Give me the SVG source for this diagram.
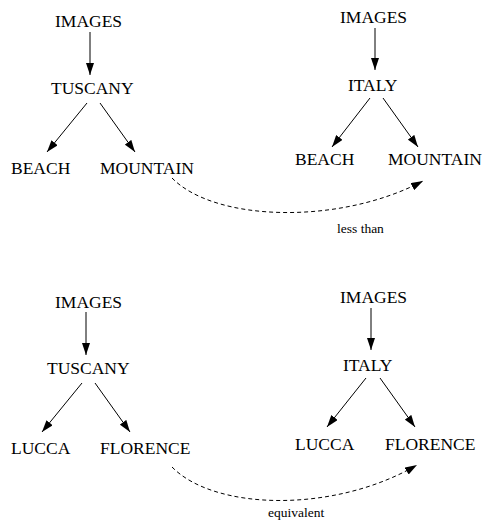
<svg xmlns="http://www.w3.org/2000/svg" width="485" height="527" viewBox="0 0 485 527">
<style>
.n{font-family:"Liberation Serif","Times New Roman",serif;font-size:17.5px;fill:#000}
.l{font-family:"Liberation Serif","Times New Roman",serif;font-size:13.5px;fill:#000}
.e{stroke:#000;stroke-width:1;fill:none;marker-end:url(#ah)}
.d{stroke:#000;stroke-width:1;fill:none;stroke-dasharray:4,3;marker-end:url(#ah)}
</style>
<defs>
<marker id="ah" markerUnits="userSpaceOnUse" markerWidth="12" markerHeight="8" refX="12" refY="4" orient="auto">
<path d="M0,0 L12,4 L0,8 z" fill="#000" stroke="none"/>
</marker>
</defs>
<rect width="485" height="527" fill="#fff"/>
<g id="connectors">
<line class="e" x1="90" y1="32" x2="90" y2="75"/>
<line class="e" x1="87" y1="103" x2="47" y2="152"/>
<line class="e" x1="100" y1="103" x2="135" y2="152"/>
<line class="e" x1="375" y1="28" x2="375" y2="70"/>
<line class="e" x1="370" y1="98" x2="332" y2="147"/>
<line class="e" x1="383" y1="98" x2="418" y2="147"/>
<line class="e" x1="86" y1="312" x2="86" y2="355"/>
<line class="e" x1="82" y1="383" x2="42" y2="432"/>
<line class="e" x1="95" y1="383" x2="130" y2="432"/>
<line class="e" x1="371" y1="308" x2="371" y2="350"/>
<line class="e" x1="366" y1="378" x2="327" y2="427"/>
<line class="e" x1="380" y1="378" x2="415" y2="427"/>
<path class="d" d="M172,178 C215,222 340,225 423,181"/>
<path class="d" d="M172,467 C215,511 335,513 417,465"/>
<text class="l" x="337" y="233">less than</text>
<text class="l" x="268" y="517">equivalent</text>
</g>
<g id="tl-images"><text class="n" x="55" y="27">IMAGES</text></g>
<g id="tl-tuscany"><text class="n" x="51" y="94">TUSCANY</text></g>
<g id="tl-beach"><text class="n" x="11" y="174">BEACH</text></g>
<g id="tl-mountain"><text class="n" x="100" y="174">MOUNTAIN</text></g>
<g id="tr-images"><text class="n" x="340" y="23">IMAGES</text></g>
<g id="tr-italy"><text class="n" x="348" y="91">ITALY</text></g>
<g id="tr-beach"><text class="n" x="295" y="165">BEACH</text></g>
<g id="tr-mountain"><text class="n" x="388" y="165">MOUNTAIN</text></g>
<g id="bl-images"><text class="n" x="55" y="308">IMAGES</text></g>
<g id="bl-tuscany"><text class="n" x="47" y="374">TUSCANY</text></g>
<g id="bl-lucca"><text class="n" x="11" y="454">LUCCA</text></g>
<g id="bl-florence"><text class="n" x="100" y="454">FLORENCE</text></g>
<g id="br-images"><text class="n" x="340" y="303">IMAGES</text></g>
<g id="br-italy"><text class="n" x="343" y="371">ITALY</text></g>
<g id="br-lucca"><text class="n" x="295" y="450">LUCCA</text></g>
<g id="br-florence"><text class="n" x="385" y="450">FLORENCE</text></g>
</svg>
